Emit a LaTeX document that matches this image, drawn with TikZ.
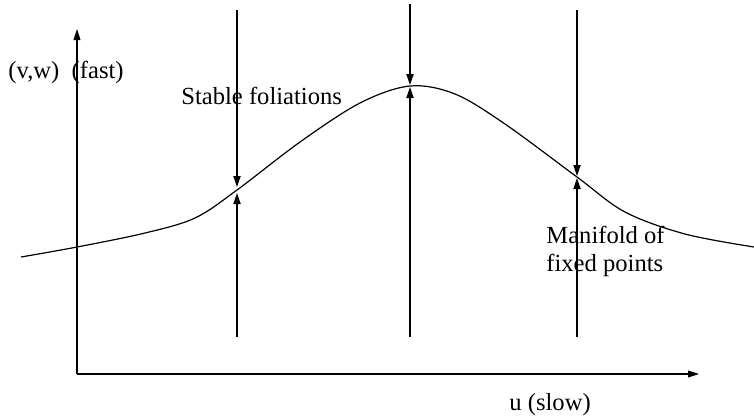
\documentclass[tikz,border=0pt]{standalone}
\usepackage{fontspec}
\setmainfont{Liberation Serif}
\usetikzlibrary{arrows.meta}

\begin{document}
\begin{tikzpicture}[x=0.5pt,y=-0.5pt,
  tip/.style={-{Triangle[length=5.5pt,width=3.6pt]}, line width=0.6pt},
  axis/.style={-{Triangle[length=5.5pt,width=3.4pt]}, line width=0.6pt},
  lbl/.style={inner sep=0pt, anchor=west, font=\fontsize{12.3}{14}\selectfont, align=left}
]
  \useasboundingbox (0,0) rectangle (754,419);

  % axes
  \coordinate (O) at (77,374);
  \coordinate (Ytop) at (77,29);
  \coordinate (Xend) at (699,374);
  \draw[axis] (O) -- (Ytop);
  \draw[axis] (O) -- (Xend);

  % manifold of fixed points
  \draw[line width=0.6pt] plot[smooth, tension=0.55] coordinates {
    (21,257) (77,247) (145,233) (195,218) (237,190) (300,142)
    (360,103) (410,86) (455,94) (505,124) (577,177) (625,212)
    (685,234) (754,247)};

  % points on the curve
  \coordinate (P1) at (237,190);
  \coordinate (P2) at (410,86);
  \coordinate (P3) at (577,177);

  % ends of the foliation lines
  \coordinate (T1) at (237,10);
  \coordinate (T2) at (410,4);
  \coordinate (T3) at (577,10);
  \coordinate (B1) at (237,337);
  \coordinate (B2) at (410,337);
  \coordinate (B3) at (577,337);

  \draw[tip, shorten >=1.5pt] (T1) -- (P1);
  \draw[tip, shorten >=1.5pt] (B1) -- (P1);
  \draw[tip, shorten >=0.5pt] (T2) -- (P2);
  \draw[tip, shorten >=0.5pt] (B2) -- (P2);
  \draw[tip, shorten >=0.5pt] (T3) -- (P3);
  \draw[tip, shorten >=0.5pt] (B3) -- (P3);

  % labels
  \node[lbl] (fast) at (8,72) {(v,w)\ \ (fast)};
  \node[lbl] (stable) at (181,96) {Stable foliations};
  \node[lbl] (manifold) at (546,251) {Manifold of\\fixed points};
  \node[lbl] (slow) at (509,405) {u (slow)};
\end{tikzpicture}
\end{document}
